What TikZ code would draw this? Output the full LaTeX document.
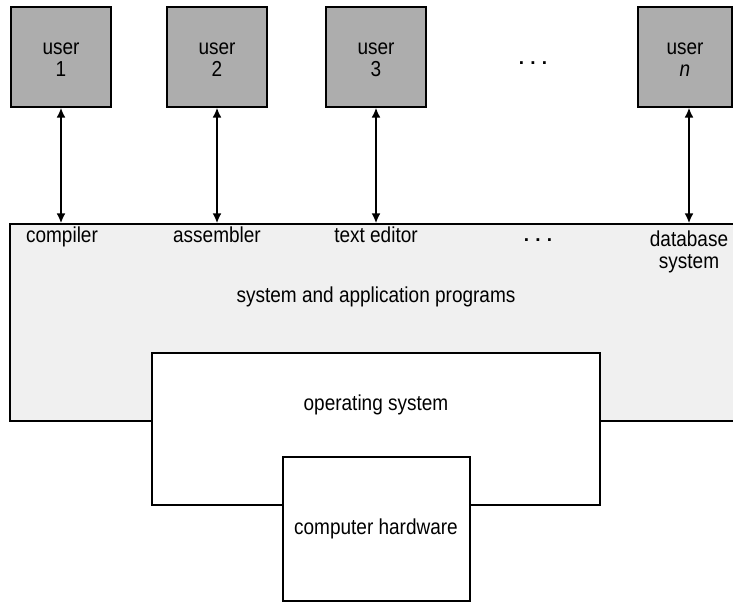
\documentclass[tikz,border=0pt]{standalone}
\usepackage{fontspec}
\setmainfont{Liberation Sans}
\usetikzlibrary{arrows.meta}
\newcommand{\tall}[1]{\scalebox{1}[1.14]{\begin{tabular}{@{}c@{}}#1\end{tabular}}}
\newcommand{\lowered}[1]{\raisebox{-4pt}[\height][\depth]{#1}}
\begin{document}
\begin{tikzpicture}[x=1pt,y=-1pt,
  userbox/.style={draw=black,line width=1.2pt,fill=black!32,minimum width=100pt,minimum height=100pt,inner sep=0pt,align=center,font=\fontsize{19}{19}\selectfont},
  layerbox/.style={draw=black,line width=1.3pt,inner sep=0pt},
  lbl/.style={inner sep=0pt,align=center,font=\fontsize{19}{19}\selectfont},
  link/.style={line width=2.7pt,{Latex[length=10pt,width=9pt]}-{Latex[length=10pt,width=9pt]}}
]
\useasboundingbox (0,0) rectangle (733,603);
\clip (0,0) rectangle (733,603);
% users
\node[userbox] (u1) at (61,57) {\lowered{\tall{user\\1}}};
\node[userbox] (u2) at (217,57) {\lowered{\tall{user\\2}}};
\node[userbox] (u3) at (376,57) {\lowered{\tall{user\\3}}};
\node[userbox,minimum width=94pt] (un) at (685,57) {\lowered{\tall{user\\\textit{n}}}};
\node[lbl] (dtop) at (533,63) {\textbf{.\,\,.\,\,.}};
% layers
\node[layerbox,fill=black!6,minimum width=735pt,minimum height=197pt] (sys) at (377.5,322.5) {};
\node[layerbox,fill=white,minimum width=448pt,minimum height=152pt] (os) at (376,429) {};
\node[layerbox,fill=white,minimum width=187pt,minimum height=144pt] (hw) at (376.5,529) {};
% labels
\node[lbl] (c1) at (62,238) {\tall{compiler}};
\node[lbl] (c2) at (217,238) {\tall{assembler}};
\node[lbl] (c3) at (376,238) {\tall{text editor}};
\node[lbl] (c4) at (538,240) {\textbf{.\,\,.\,\,.}};
\node[lbl] (c5) at (689,253) {\tall{database\\system}};
\node[lbl] (sl) at (376,298) {\tall{system and application programs}};
\node[lbl] (ol) at (376,406) {\tall{operating system}};
\node[lbl] (hl) at (376,530) {\tall{computer hardware}};
% links
\draw[link] (u1.south) -- (u1.south |- sys.north);
\draw[link] (u2.south) -- (u2.south |- sys.north);
\draw[link] (u3.south) -- (u3.south |- sys.north);
\draw[link] (c5.north |- un.south) -- (c5.north |- sys.north);
\end{tikzpicture}
\end{document}
